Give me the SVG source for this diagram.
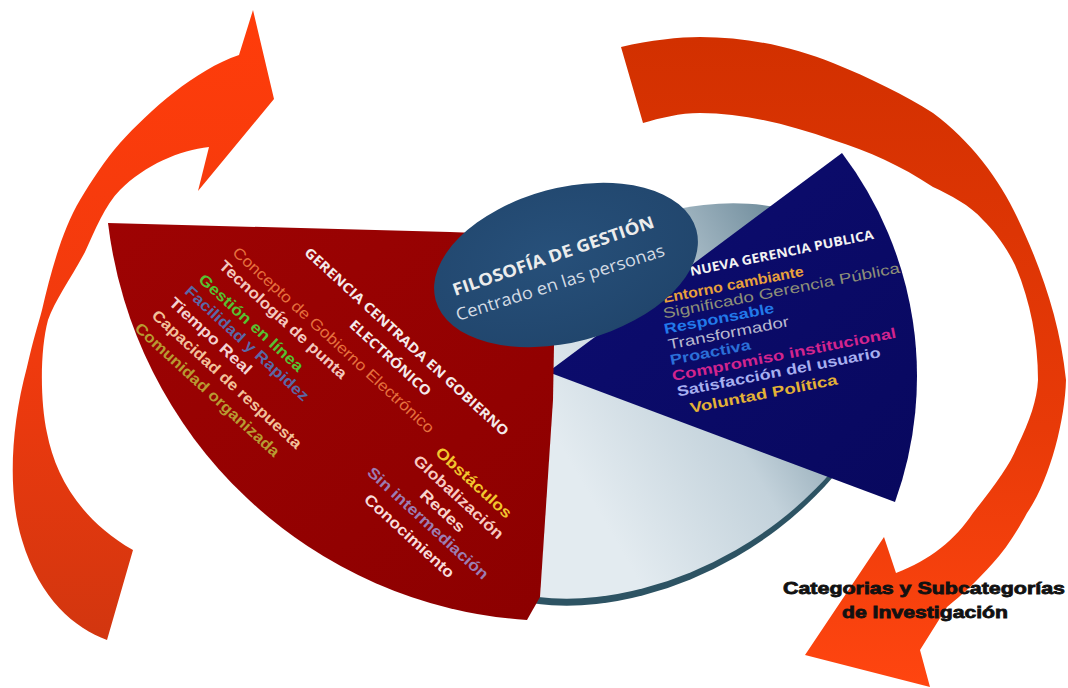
<svg xmlns="http://www.w3.org/2000/svg" width="1068" height="688" viewBox="0 0 1068 688">
<defs>
<linearGradient id="gLeftArrow" x1="0" y1="0" x2="0" y2="1">
<stop offset="0" stop-color="#ff3c0a"/><stop offset="0.55" stop-color="#f03a0e"/><stop offset="1" stop-color="#d2360f"/>
</linearGradient>
<linearGradient id="gRightArrow" x1="0" y1="0" x2="0" y2="1">
<stop offset="0" stop-color="#d23000"/><stop offset="0.6" stop-color="#e83a08"/><stop offset="1" stop-color="#ff4510"/>
</linearGradient>
<linearGradient id="gDisk" gradientUnits="userSpaceOnUse" x1="550" y1="0" x2="860" y2="0">
<stop offset="0" stop-color="#e3ebf0"/><stop offset="0.5" stop-color="#c3d2db"/><stop offset="1" stop-color="#6d8a9a"/>
</linearGradient>
<linearGradient id="gRed" x1="0" y1="0" x2="1" y2="1">
<stop offset="0" stop-color="#9e0303"/><stop offset="1" stop-color="#8c0000"/>
</linearGradient>
<linearGradient id="gNavy" x1="0" y1="0" x2="1" y2="1">
<stop offset="0" stop-color="#0d0d72"/><stop offset="1" stop-color="#08085e"/>
</linearGradient>
<radialGradient id="gEll" cx="0.45" cy="0.4" r="0.7">
<stop offset="0" stop-color="#27507a"/><stop offset="0.85" stop-color="#21466d"/><stop offset="1" stop-color="#1b3a5c"/>
</radialGradient>
</defs>
<style>
.lst{font-family:"Liberation Sans",Arial,sans-serif;font-weight:bold;font-size:15.5px}
.nv{font-size:14.5px}
.reg{font-weight:normal}
.ttl{font-family:"Open Sans","DejaVu Sans",sans-serif;font-weight:bold}
.cat{font-family:"Liberation Sans",Arial,sans-serif;font-weight:bold;font-size:17px;fill:#111;stroke:#111;stroke-width:0.8}
</style>
<rect width="1068" height="688" fill="#ffffff"/>

<g id="connectors">
<path id="arrow-left" fill="url(#gLeftArrow)" d="M253,10 L274,99 L198,191 L209,147 C180,150 145,165 120,190 C105,205 95,230 85,252 C70,280 55,300 48,320 C40,350 40,400 47,433 C55,475 80,520 133,550 L107,640 C75,628 40,600 22,540 C8,495 10,430 27,367 C33,340 38,325 42,310 C50,275 62,230 80,200 C92,180 105,160 120,143 C150,110 195,70 239,55 Z"/>
<path id="arrow-right" fill="url(#gRightArrow)" d="M621,47 C650,40 680,37 700,37 C750,37 795,48 833,63 C870,78 905,95 933,113 C970,140 1000,180 1017,217 C1040,265 1060,320 1066,380 C1065,420 1050,480 1027,513 C1015,535 1005,550 993,563 C978,580 962,595 947,607 L920,650 L930,687 L805,655 L884,537 L896,573 C930,560 955,540 973,513 C995,485 1010,465 1017,447 C1030,420 1037,400 1038,380 C1038,340 1030,300 1015,265 C1005,245 995,232 983,220 C970,205 950,195 933,187 C900,165 870,152 833,140 C790,125 745,113 700,113 C680,113 660,118 643,123 Z"/>
</g>

<g id="disk">
<ellipse cx="650" cy="408" rx="260" ry="172" transform="rotate(-30 650 408)" fill="#2d5363"/>
<ellipse cx="650" cy="401" rx="260" ry="172" transform="rotate(-30 650 401)" fill="url(#gDisk)"/>
</g>

<g id="nueva-gerencia">
<path d="M548,372 L842,153 A370,370 0 0 1 895,502 Z" fill="url(#gNavy)"/>
<text class="ttl" font-size="13" fill="#f2f2f2" transform="translate(691,276) rotate(-11.5)" textLength="187" lengthAdjust="spacingAndGlyphs">NUEVA GERENCIA PUBLICA</text>
<text class="lst nv" fill="#e9a13b" transform="translate(664,303) rotate(-11)" textLength="143" lengthAdjust="spacingAndGlyphs">Entorno cambiante</text>
<text class="lst nv reg" fill="#8e9078" transform="translate(664,318.5) rotate(-11)" textLength="241" lengthAdjust="spacingAndGlyphs">Significado Gerencia Pública</text>
<text class="lst nv" fill="#2279ea" transform="translate(665,334) rotate(-11)" textLength="112" lengthAdjust="spacingAndGlyphs">Responsable</text>
<text class="lst nv reg" fill="#b9b9cf" transform="translate(669,349.5) rotate(-11)" textLength="123" lengthAdjust="spacingAndGlyphs">Transformador</text>
<text class="lst nv" fill="#2b6fd8" transform="translate(671,365) rotate(-11)" textLength="82" lengthAdjust="spacingAndGlyphs">Proactiva</text>
<text class="lst nv" fill="#d2248e" transform="translate(673,381) rotate(-11)" textLength="228" lengthAdjust="spacingAndGlyphs">Compromiso institucional</text>
<text class="lst nv" fill="#a7aff0" transform="translate(678,396.5) rotate(-11)" textLength="207" lengthAdjust="spacingAndGlyphs">Satisfacción del usuario</text>
<text class="lst nv" fill="#e3b236" transform="translate(691,413) rotate(-11)" textLength="150" lengthAdjust="spacingAndGlyphs">Voluntad Política</text>
</g>

<g id="gerencia-gobierno">
<path d="M108,223 L450,232 L556,236 L553,400 L540,597 L527,620 A452,452 0 0 1 108,223 Z" fill="url(#gRed)"/>
<g transform="translate(307,250) rotate(42.5)">
<text class="ttl" font-size="13.5" fill="#f4eaea" x="0" y="5" textLength="271" lengthAdjust="spacingAndGlyphs">GERENCIA CENTRADA EN  GOBIERNO</text>
<text class="ttl" font-size="13.5" fill="#f4eaea" x="82" y="28" textLength="105" lengthAdjust="spacingAndGlyphs">ELECTRÓNICO</text>
</g>
<g transform="translate(235,250) rotate(42.5)">
<text class="lst reg" fill="#e6703e" x="0" y="5" textLength="267" lengthAdjust="spacingAndGlyphs">Concepto de Gobierno Electrónico</text>
<text class="lst" fill="#f3c8bf" x="-1" y="24" textLength="167" lengthAdjust="spacingAndGlyphs">Tecnología de punta</text>
<text class="lst" fill="#56c232" x="-7" y="48" textLength="136" lengthAdjust="spacingAndGlyphs">Gestión en línea</text>
<text class="lst" fill="#5a68a6" x="-9" y="66" textLength="162" lengthAdjust="spacingAndGlyphs">Facilidad y Rapidez</text>
<text class="lst" fill="#f3d2d2" x="-13" y="85" textLength="106" lengthAdjust="spacingAndGlyphs">Tiempo Real</text>
<text class="lst" fill="#f2c19a" x="-17" y="106" textLength="197" lengthAdjust="spacingAndGlyphs">Capacidad de respuesta</text>
<text class="lst" fill="#b89a32" x="-21" y="127" textLength="190" lengthAdjust="spacingAndGlyphs">Comunidad organizada</text>
</g>
<g transform="translate(438,450) rotate(42.5)">
<text class="lst" fill="#f2c62e" x="0" y="5" textLength="97" lengthAdjust="spacingAndGlyphs">Obstáculos</text>
<text class="lst" fill="#f8cac2" x="-11" y="26" textLength="116" lengthAdjust="spacingAndGlyphs">Globalización</text>
<text class="lst" fill="#f8d4cc" x="17" y="47" textLength="55" lengthAdjust="spacingAndGlyphs">Redes</text>
<text class="lst" fill="#9c7cb2" x="-37" y="66" textLength="158" lengthAdjust="spacingAndGlyphs">Sin intermediación</text>
<text class="lst" fill="#f8dcdc" x="-21" y="88" textLength="116" lengthAdjust="spacingAndGlyphs">Conocimiento</text>
</g>
</g>

<g id="filosofia">
<ellipse cx="566" cy="265" rx="135" ry="77" transform="rotate(-15 566 265)" fill="url(#gEll)"/>
<text class="ttl" font-size="17" fill="#ececec" transform="translate(455,296) rotate(-19)" textLength="212" lengthAdjust="spacingAndGlyphs">FILOSOFÍA DE GESTIÓN</text>
<text font-family="'Open Sans','DejaVu Sans',sans-serif" font-size="17" fill="#d3dbe4" transform="translate(458,321) rotate(-17.5)" textLength="218" lengthAdjust="spacingAndGlyphs">Centrado en las personas</text>
</g>

<g id="categorias">
<text class="cat" x="783" y="594" textLength="282" lengthAdjust="spacingAndGlyphs">Categorias y Subcategorías</text>
<text class="cat" x="842" y="618" textLength="166" lengthAdjust="spacingAndGlyphs">de Investigación</text>
</g>
</svg>
